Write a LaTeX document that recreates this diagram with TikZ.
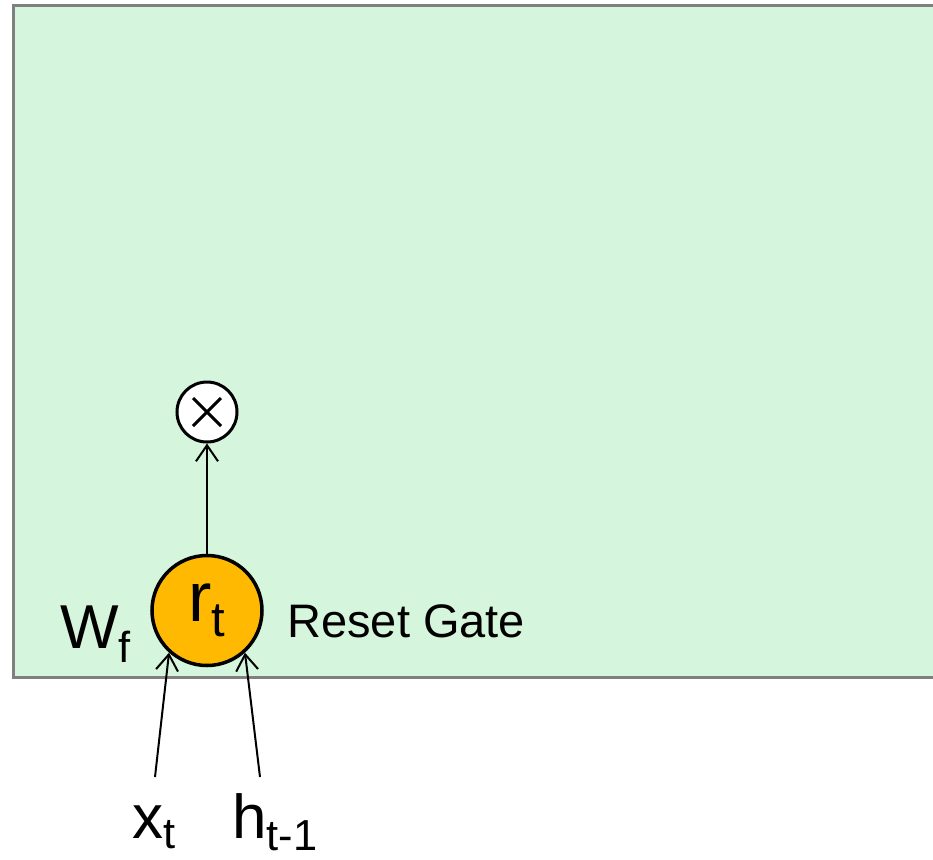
\documentclass[tikz,border=0pt]{standalone}
\usepackage{fontspec}
\setmainfont{Liberation Sans}
\usetikzlibrary{arrows.meta,positioning}
\definecolor{mint}{HTML}{D5F5DC}
\definecolor{frame}{HTML}{808080}
\definecolor{gold}{HTML}{FFB900}
\newcommand{\lo}[1]{\textsubscript{#1}}
\tikzset{panel/.style={draw=frame,fill=mint,line width=1.5pt},gate/.style={circle,draw=black,fill=gold,line width=1.75pt,minimum size=55pt,inner sep=0pt,font=\fontsize{35}{40}\selectfont},mult/.style={circle,draw=black,fill=white,line width=1.5pt,minimum size=30pt,inner sep=0pt,path picture={\draw[line width=1.5pt] ([shift={(-7pt,-7pt)}]path picture bounding box.center)--++(14pt,14pt) ([shift={(-7pt,7pt)}]path picture bounding box.center)--++(14pt,-14pt);}},flow/.style={-{Straight Barb[length=8pt,width=11pt]},line width=1pt},tag/.style={inner sep=0pt,anchor=base west,font=\fontsize{31}{36}\selectfont},note/.style={tag,font=\fontsize{23.5}{28}\selectfont}}

\begin{document}
\begin{tikzpicture}[x=0.5pt,y=-0.5pt]
\useasboundingbox (0,0) rectangle (933,859);
\clip (0,0) rectangle (933,859);
\draw[panel] (13.5,5.5) rectangle (950,677.5);
\node[gate] (rt) at (207,610.5) {r\lo{t}};
\node[mult] (mul) at (207,412) {};
\node[note] (reset) at (287,637) {Reset Gate};
\node[tag] (wf) at (60,648) {W\lo{f}};
\node[tag] (xt) at (132,838) {x\lo{t}};
\node[tag] (ht) at (232,838) {h\lo{t-1}};
\coordinate (xin) at (155,777);
\coordinate (hin) at (260,777);
\draw[flow] (rt)--(mul);
\draw[flow] (xin)--(rt.228);\draw[flow] (hin)--(rt.312);
\end{tikzpicture}
\end{document}
